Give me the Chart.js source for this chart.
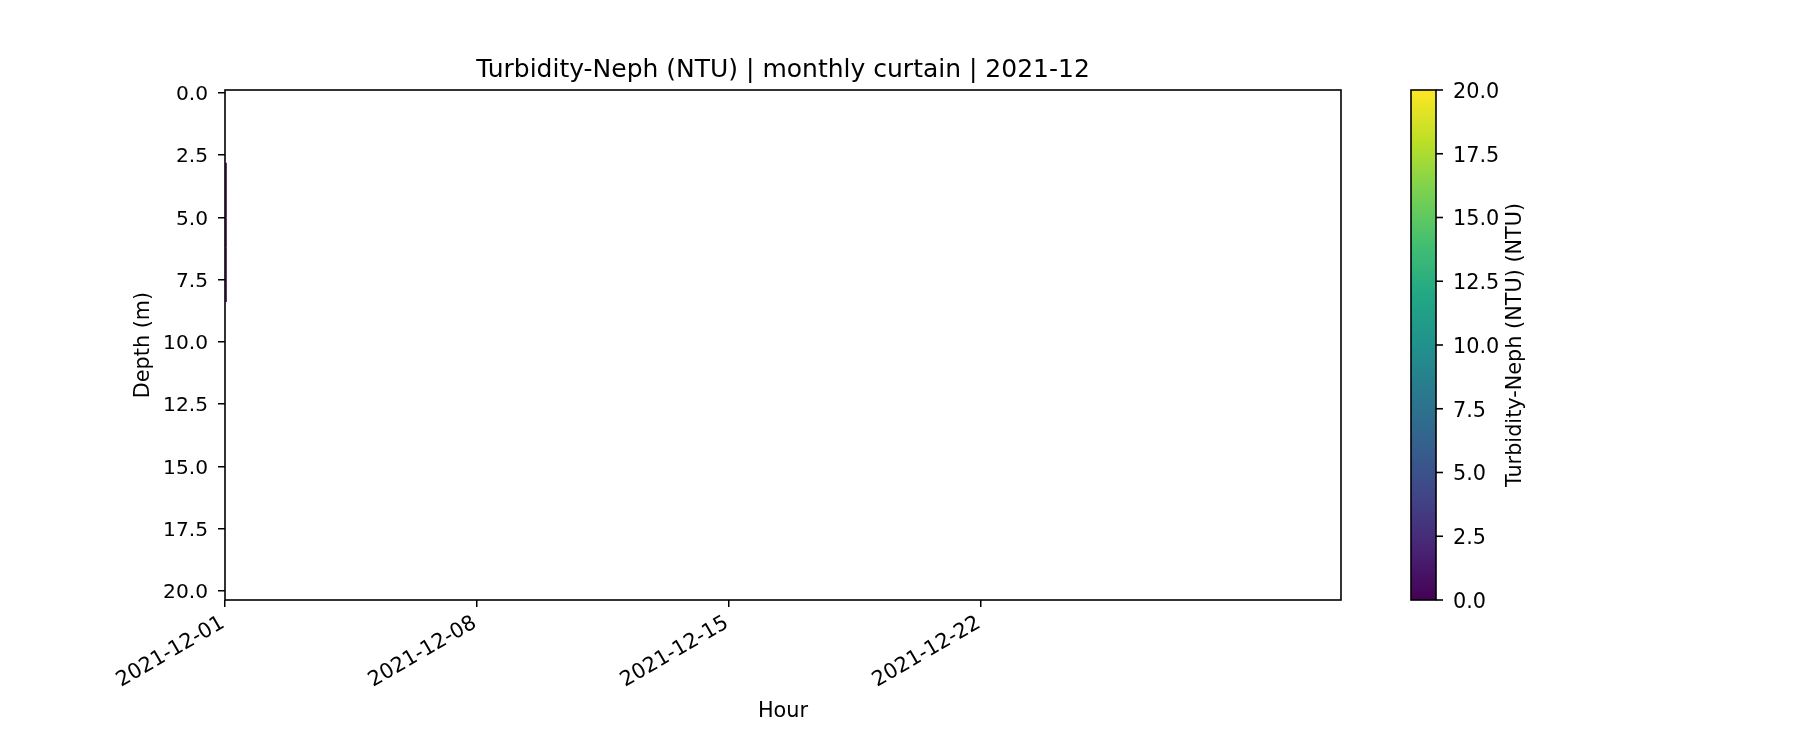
<!DOCTYPE html>
<html>
<head>
<meta charset="utf-8">
<script src="https://cdn.jsdelivr.net/npm/chart.js@4.4.0/dist/chart.umd.min.js"></script>
<style>
  body { margin: 0; background: #fff; }
</style>
</head>
<body>
<canvas id="curtain" width="1800" height="750"></canvas>
<script>
/* Monthly curtain - turbidity */

const titleText = 'Turbidity-Neph (NTU) | monthly curtain | 2021-12';
const cbLabel = 'Turbidity-Neph (NTU) (NTU)';

// x axis is in days since 2021-12-01 00:00
const xTickDays = [0, 7, 14, 21];
const xTickLabels = ['2021-12-01', '2021-12-08', '2021-12-15', '2021-12-22'];
const yTicks = [0, 2.5, 5, 7.5, 10, 12.5, 15, 17.5, 20];
const cbTicks = [0, 2.5, 5, 7.5, 10, 12.5, 15, 17.5, 20];

// only one profile in the month (first hour), split in depth bins
const binDay = [0.03, 0.03, 0.03, 0.03, 0.03];
const binTop = [2.8, 3.9, 5.0, 6.2, 6.75];
const binBottom = [3.9, 5.0, 6.2, 6.75, 8.4];
const turbidity = [0.6, 0.5, 0.7, 0.6, 0.5];

const vmin = 0, vmax = 20;

// viridis
const viridis = ['#440154', '#482475', '#414487', '#355f8d', '#2a788e', '#21918c',
                 '#22a884', '#44bf70', '#7ad151', '#bddf26', '#fde725'];

function hex2rgb(h) {
  return [parseInt(h.slice(1, 3), 16), parseInt(h.slice(3, 5), 16), parseInt(h.slice(5, 7), 16)];
}
function viridisColor(t) {
  t = Math.max(0, Math.min(1, t));
  const p = t * (viridis.length - 1);
  const i = Math.min(Math.floor(p), viridis.length - 2);
  const f = p - i;
  const a = hex2rgb(viridis[i]), b = hex2rgb(viridis[i + 1]);
  const c = a.map((v, k) => Math.round(v + (b[k] - v) * f));
  return 'rgb(' + c.join(',') + ')';
}

const font = 'DejaVu Sans';

const datasets = turbidity.map((v, i) => ({
  label: 'bin ' + i,
  data: [{x: binDay[i], y: binTop[i]}, {x: binDay[i], y: binBottom[i]}],
  borderColor: viridisColor((v - vmin) / (vmax - vmin)),
  borderWidth: 1.5,
  pointRadius: 0,
  showLine: true,
}));

// frame + colorbar
const curtainExtras = {
  id: 'curtainExtras',
  afterDraw(chart) {
    const {ctx, chartArea: a} = chart;
    ctx.save();
    ctx.strokeStyle = '#000';
    ctx.lineWidth = 1.6;
    ctx.strokeRect(a.left, a.top, a.right - a.left, a.bottom - a.top);

    // colorbar
    const cbL = 1411, cbW = 25;
    const top = a.top, bot = a.bottom;
    const g = ctx.createLinearGradient(0, bot, 0, top);
    viridis.forEach((c, i) => g.addColorStop(i / (viridis.length - 1), c));
    ctx.fillStyle = g;
    ctx.fillRect(cbL, top, cbW, bot - top);
    ctx.strokeRect(cbL, top, cbW, bot - top);

    ctx.fillStyle = '#000';
    ctx.font = '20.8px "' + font + '"';
    ctx.textAlign = 'left';
    ctx.textBaseline = 'middle';
    cbTicks.forEach(v => {
      const y = bot - (v - vmin) / (vmax - vmin) * (bot - top);
      ctx.beginPath();
      ctx.moveTo(cbL + cbW, y);
      ctx.lineTo(cbL + cbW + 7, y);
      ctx.stroke();
      ctx.fillText(v.toFixed(1), cbL + cbW + 17, y + 2.5);
    });

    ctx.translate(1516, (top + bot) / 2);
    ctx.rotate(-Math.PI / 2);
    ctx.textAlign = 'center';
    ctx.fillText(cbLabel, 0, 0);
    ctx.restore();
  }
};

new Chart(document.getElementById('curtain'), {
  type: 'scatter',
  data: { datasets: datasets },
  options: {
    responsive: false,
    animation: false,
    layout: { padding: { left: 0, right: 459, top: 0, bottom: 0 } },
    plugins: {
      legend: { display: false },
      tooltip: { enabled: false },
      title: {
        display: true,
        fullSize: false,
        text: titleText,
        color: '#000',
        font: { family: font, size: 25, weight: 'normal' },
        padding: { top: 55.5, bottom: 4.5 },
      },
    },
    scales: {
      x: {
        type: 'linear',
        min: 0,
        max: 31,
        afterFit: s => { s.height = 150; },
        afterBuildTicks: s => { s.ticks = xTickDays.map(v => ({ value: v })); },
        grid: { drawOnChartArea: false, tickLength: 7, color: '#000', lineWidth: 1.5 },
        border: { display: false },
        ticks: {
          color: '#000',
          font: { family: font, size: 20.8 },
          minRotation: 30,
          maxRotation: 30,
          padding: 4,
          labelOffset: -2,
          callback: v => xTickLabels[xTickDays.indexOf(v)],
        },
        title: {
          display: true,
          text: 'Hour',
          color: '#000',
          font: { family: font, size: 20.8 },
          padding: { top: 0, bottom: 26 },
        },
      },
      y: {
        type: 'linear',
        reverse: true,
        min: -0.12,
        max: 20.37,
        afterFit: s => { s.width = 225; },
        afterBuildTicks: s => { s.ticks = yTicks.map(v => ({ value: v })); },
        grid: { drawOnChartArea: false, tickLength: 7, color: '#000', lineWidth: 1.5 },
        border: { display: false },
        ticks: {
          color: '#000',
          font: { family: font, size: 20.2 },
          padding: 10,
          labelOffset: 2,
          callback: v => v.toFixed(1),
        },
        title: {
          display: true,
          text: 'Depth (m)',
          color: '#000',
          font: { family: font, size: 20.8 },
          padding: { top: 131.5, bottom: 0 },
        },
      },
    },
  },
  plugins: [curtainExtras],
});
</script>
</body>
</html>
